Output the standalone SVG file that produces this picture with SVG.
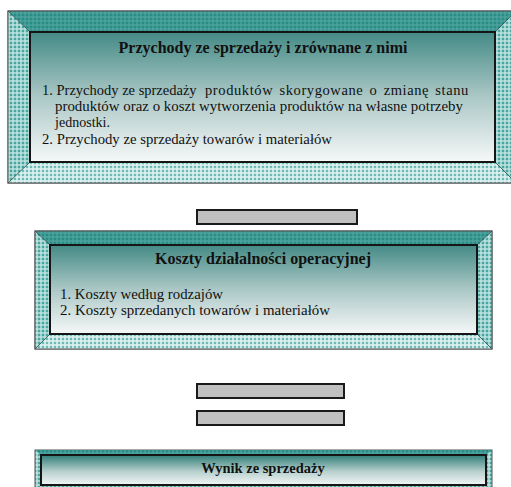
<svg xmlns="http://www.w3.org/2000/svg" width="511" height="487" viewBox="0 0 511 487">
<defs>
<style>
.outer{stroke:#555;stroke-width:1}
.inner{stroke:#151515;stroke-width:2}
.diag{stroke:#2a4a48;stroke-width:0.8;fill:none}
text{font-family:'Liberation Serif','DejaVu Serif',serif;fill:#111}
.title{font-weight:bold;text-anchor:middle}
.item{font-size:14.5px}
.bar{fill:#c0c0c0;stroke:#1a1a1a;stroke-width:2}
</style>
<pattern id="chkTop" width="4" height="4" patternUnits="userSpaceOnUse">
<rect width="4" height="4" fill="#2a8c86"/>
<rect width="4" height="2" fill="#55aaa4" opacity="0.5"/>
<rect width="2" height="4" fill="#55aaa4" opacity="0.5"/>
</pattern>
<pattern id="chkSide" width="4" height="4" patternUnits="userSpaceOnUse">
<rect width="4" height="4" fill="#4aa59f"/>
<rect width="4" height="2" fill="#c4e6e3" opacity="0.7"/>
<rect width="2" height="4" fill="#c4e6e3" opacity="0.7"/>
</pattern>
<pattern id="chkBot" width="4" height="4" patternUnits="userSpaceOnUse">
<rect width="4" height="4" fill="#6dbab5"/>
<rect width="4" height="2" fill="#e0f3f1" opacity="0.8"/>
<rect width="2" height="4" fill="#e0f3f1" opacity="0.8"/>
</pattern>
<linearGradient id="grad" x1="0" y1="0" x2="0" y2="1">
<stop offset="0" stop-color="#448a86"/>
<stop offset="0.5" stop-color="#abc8c6"/>
<stop offset="1" stop-color="#f6f8f8"/>
</linearGradient>
<linearGradient id="grad3" x1="0" y1="0" x2="0" y2="1">
<stop offset="0" stop-color="#2f7c77"/>
<stop offset="0.55" stop-color="#b7d0ce"/>
<stop offset="1" stop-color="#f3f6f6"/>
</linearGradient>
</defs>
<rect width="511" height="487" fill="#ffffff"/>

<g id="node-revenue">
<rect class="outer" x="8" y="11" width="508" height="172" fill="url(#chkSide)"/>
<polygon points="8,11 516,11 495,32 30,32" fill="url(#chkTop)"/>
<polygon points="8,183 516,183 495,162 30,162" fill="url(#chkBot)"/>
<polygon points="8,11 30,32 30,162 8,183" fill="url(#chkSide)"/>
<polygon points="516,11 495,32 495,162 516,183" fill="url(#chkSide)"/>
<path class="diag" d="M8,11 L30,32 M516,11 L495,32 M8,183 L30,162 M516,183 L495,162"/>
<rect class="outer" x="8" y="11" width="508" height="172" fill="none"/>
<rect class="inner" x="30" y="32" width="465" height="130" fill="url(#grad)"/>
<text class="title" x="263" y="53" font-size="16">Przychody ze sprzedaży i zrównane z nimi</text>
<text class="item" y="95"><tspan x="42">1. Przychody ze sprzedaży</tspan> <tspan x="205" letter-spacing="0.6" word-spacing="2">produktów skorygowane o zmianę stanu</tspan></text>
<text class="item" x="55" y="111" textLength="408" lengthAdjust="spacingAndGlyphs">produktów oraz o koszt wytworzenia produktów na własne potrzeby</text>
<text class="item" x="55" y="127" textLength="55" lengthAdjust="spacingAndGlyphs">jednostki.</text>
<text class="item" x="42" y="144" textLength="290" lengthAdjust="spacingAndGlyphs">2. Przychody ze sprzedaży towarów i materiałów</text>
</g>

<g id="node-costs">
<rect class="outer" x="35" y="231" width="457" height="118" fill="url(#chkSide)"/>
<polygon points="35,231 492,231 477,245 50,245" fill="url(#chkTop)"/>
<polygon points="35,349 492,349 477,334 50,334" fill="url(#chkBot)"/>
<polygon points="35,231 50,245 50,334 35,349" fill="url(#chkSide)"/>
<polygon points="492,231 477,245 477,334 492,349" fill="url(#chkSide)"/>
<path class="diag" d="M35,231 L50,245 M492,231 L477,245 M35,349 L50,334 M492,349 L477,334"/>
<rect class="outer" x="35" y="231" width="457" height="118" fill="none"/>
<rect class="inner" x="50" y="245" width="427" height="89" fill="url(#grad)"/>
<text class="title" x="263" y="264" font-size="16">Koszty działalności operacyjnej</text>
<text class="item" x="60" y="299" textLength="163" lengthAdjust="spacingAndGlyphs">1. Koszty według rodzajów</text>
<text class="item" x="60" y="315" textLength="270" lengthAdjust="spacingAndGlyphs">2. Koszty sprzedanych towarów i materiałów</text>
</g>

<g id="node-result">
<rect class="outer" x="35" y="450" width="457" height="42" fill="url(#chkSide)"/>
<polygon points="35,450 492,450 486,455 41,455" fill="url(#chkTop)"/>
<rect class="inner" x="41" y="455" width="445" height="30" fill="url(#grad3)"/>
<text class="title" x="263" y="473" font-size="14.5">Wynik ze sprzedaży</text>
</g>

<g id="connectors">
<rect class="bar" x="197" y="210" width="160" height="14"/>
<rect class="bar" x="197" y="384" width="147" height="14"/>
<rect class="bar" x="197" y="411" width="147" height="14"/>
</g>
</svg>
